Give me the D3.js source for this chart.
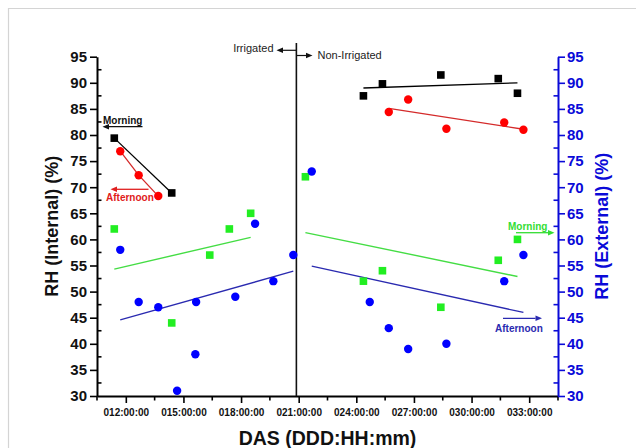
<!DOCTYPE html>
<html>
<head>
<meta charset="utf-8">
<script src="https://cdn.jsdelivr.net/npm/d3@7"></script>
<style>
  html, body { margin: 0; padding: 0; background: #fff; }
  svg { display: block; font-family: "Liberation Sans", Arial, sans-serif; }
</style>
</head>
<body>
<svg id="chart" width="640" height="448"></svg>
<script>
// ---------------- data (days after sowing, RH %) ----------------
const xTickDays   = [12, 15, 18, 21, 24, 27, 30, 33];
const xTickLabels = ["012:00:00", "015:00:00", "018:00:00", "021:00:00", "024:00:00", "027:00:00", "030:00:00", "033:00:00"];
const yTicks      = [30, 35, 40, 45, 50, 55, 60, 65, 70, 75, 80, 85, 90, 95];

// Internal RH, irrigated (connected)
const irrMorningIntDays   = [11.4, 14.39];
const irrMorningInt       = [79.4, 68.9];
const irrAfternoonIntDays = [11.71, 12.67, 13.69];
const irrAfternoonInt     = [76.9, 72.3, 68.3];

// Internal RH, non-irrigated
const nonMorningIntDays   = [24.37, 25.36, 28.40, 31.39, 32.39];
const nonMorningInt       = [87.5, 89.8, 91.5, 90.8, 88.0];
const nonAfternoonIntDays = [25.69, 26.70, 28.69, 31.70, 32.70];
const nonAfternoonInt     = [84.4, 86.8, 81.2, 82.4, 81.0];

// External RH
const morningExtDays   = [11.4, 14.39, 16.37, 17.39, 18.5, 21.35, 24.37, 25.36, 28.4, 31.39, 32.39];
const morningExt       = [62, 44, 57, 62, 65, 72, 52, 54, 47, 56, 60];
const afternoonExtDays = [11.71, 12.67, 13.69, 14.67, 15.62, 15.66, 17.7, 18.73, 19.68, 20.72, 21.68, 24.7, 25.69, 26.7, 28.69, 31.7, 32.7];
const afternoonExt     = [58, 48, 47, 31, 38, 48, 49, 63, 52, 57, 73, 48, 43, 39, 40, 52, 57];

// Linear trend lines (start/end)
const trendNonMorningIntDays   = [24.37, 32.39]; const trendNonMorningInt   = [89.0, 90.0];
const trendNonAfternoonIntDays = [25.69, 32.70]; const trendNonAfternoonInt = [85.1, 81.1];
const trendIrrMorningExtDays   = [11.4, 18.5];   const trendIrrMorningExt   = [54.3, 60.4];
const trendIrrAfternoonExtDays = [11.71, 20.72]; const trendIrrAfternoonExt = [44.6, 53.9];
const trendNonMorningExtDays   = [21.35, 32.39]; const trendNonMorningExt   = [61.3, 52.9];
const trendNonAfternoonExtDays = [21.68, 32.70]; const trendNonAfternoonExt = [54.9, 46.0];

const irrigationSwitchDay = 20.88;

// ---------------- layout ----------------
const svg = d3.select("#chart");
const padL = 97, padR = 558, padT = 56.7, padB = 396;
const x = d3.scaleLinear().domain([10.5, 34.5]).range([padL, padR]);
const yL = d3.scaleLinear().domain([30, 95]).range([padB, padT]);
const yR = d3.scaleLinear().domain([30, 95]).range([padB, padT]);

const C = {
  black: "#000000", red: "#ff0000", redLine: "#d42a2a",
  green: "#22ee22", greenLine: "#44dd44", greenText: "#33dd33",
  blue: "#0000ff", blueLine: "#2a2ab0", axisBlue: "#0a0ad8"
};

// frame border
svg.append("path").attr("d", "M8.5,448 V8.5 H636").attr("fill", "none")
  .attr("stroke", "#d4d4d4").attr("stroke-width", 1.2);

const zip = (a, b) => a.map((v, i) => [v, b[i]]);
const line = (ys) => d3.line().x(d => x(d[0])).y(d => ys(d[1]));

// ---------------- axes ----------------
const minorY = d3.range(32.5, 95, 5);
const minorX = d3.range(10.5, 34.6, 3);

// bottom
const gx = svg.append("g").attr("transform", `translate(0,${padB})`);
gx.call(d3.axisBottom(x).tickValues(xTickDays).tickSize(7).tickSizeOuter(0)
  .tickFormat((d, i) => xTickLabels[i]));
gx.selectAll(".tick text").attr("font-size", 10).attr("font-weight", "bold")
  .attr("font-family", "Liberation Sans, Arial, sans-serif").attr("dy", "0.95em").attr("fill", "#111");
gx.select(".domain").attr("stroke-width", 2);
gx.selectAll(".tick line").attr("stroke-width", 1.6);
gx.selectAll(".minor").data(minorX).enter().append("line")
  .attr("x1", d => x(d)).attr("x2", d => x(d)).attr("y1", 0).attr("y2", 4.5)
  .attr("stroke", "#000").attr("stroke-width", 1.6);

// left
const gl = svg.append("g").attr("transform", `translate(${padL},0)`);
gl.call(d3.axisLeft(yL).tickValues(yTicks).tickSize(7).tickSizeOuter(0));
gl.selectAll(".tick text").attr("font-size", 15).attr("font-weight", "bold")
  .attr("font-family", "Liberation Sans, Arial, sans-serif").attr("x", -10).attr("fill", "#111");
gl.select(".domain").attr("stroke-width", 2);
gl.selectAll(".tick line").attr("stroke-width", 1.6);
gl.selectAll(".minor").data(minorY).enter().append("line")
  .attr("x1", 0).attr("x2", 4.5).attr("y1", d => yL(d)).attr("y2", d => yL(d))
  .attr("stroke", "#000").attr("stroke-width", 1.6);

// right
const gr = svg.append("g").attr("transform", `translate(${padR},0)`);
gr.call(d3.axisRight(yR).tickValues(yTicks).tickSize(7).tickSizeOuter(0));
gr.selectAll(".tick text").attr("font-size", 15).attr("font-weight", "bold")
  .attr("font-family", "Liberation Sans, Arial, sans-serif").attr("x", 9).attr("fill", C.axisBlue);
gr.select(".domain").attr("stroke", C.axisBlue).attr("stroke-width", 2);
gr.selectAll(".tick line").attr("stroke", C.axisBlue).attr("stroke-width", 1.6);
gr.selectAll(".minor").data(minorY).enter().append("line")
  .attr("x1", 0).attr("x2", -4.5).attr("y1", d => yR(d)).attr("y2", d => yR(d))
  .attr("stroke", C.axisBlue).attr("stroke-width", 1.6);

// axis titles
svg.append("text").attr("transform", `translate(58,${(padT + padB) / 2}) rotate(-90)`)
  .attr("text-anchor", "middle").attr("font-size", 18).attr("font-weight", "bold")
  .attr("fill", "#111").text("RH (Internal) (%)");
svg.append("text").attr("transform", `translate(608,${(padT + padB) / 2}) rotate(-90)`)
  .attr("text-anchor", "middle").attr("font-size", 18).attr("font-weight", "bold")
  .attr("fill", C.axisBlue).text("RH (External) (%)");
svg.append("text").attr("x", (padL + padR) / 2).attr("y", 445)
  .attr("text-anchor", "middle").attr("font-size", 19.5).attr("font-weight", "bold")
  .attr("fill", "#111").text("DAS (DDD:HH:mm)");

// divider
svg.append("line").attr("x1", x(irrigationSwitchDay)).attr("x2", x(irrigationSwitchDay))
  .attr("y1", 43).attr("y2", padB).attr("stroke", "#111").attr("stroke-width", 1.6);

// ---------------- lines ----------------
const drawLine = (days, vals, ys, color, w) =>
  svg.append("path").datum(zip(days, vals)).attr("d", line(ys)).attr("fill", "none")
    .attr("stroke", color).attr("stroke-width", w);

drawLine(irrMorningIntDays, irrMorningInt, yL, C.black, 1.3);
drawLine(irrAfternoonIntDays, irrAfternoonInt, yL, C.redLine, 1.3);
drawLine(trendNonMorningIntDays, trendNonMorningInt, yL, C.black, 1.3);
drawLine(trendNonAfternoonIntDays, trendNonAfternoonInt, yL, C.redLine, 1.3);
drawLine(trendIrrMorningExtDays, trendIrrMorningExt, yR, C.greenLine, 1.4);
drawLine(trendNonMorningExtDays, trendNonMorningExt, yR, C.greenLine, 1.4);
drawLine(trendIrrAfternoonExtDays, trendIrrAfternoonExt, yR, C.blueLine, 1.3);
drawLine(trendNonAfternoonExtDays, trendNonAfternoonExt, yR, C.blueLine, 1.3);

// ---------------- markers ----------------
const sq = 7.6, rad = 4.2;
const squares = (days, vals, ys, color) =>
  svg.append("g").selectAll("rect").data(zip(days, vals)).enter().append("rect")
    .attr("x", d => x(d[0]) - sq / 2).attr("y", d => ys(d[1]) - sq / 2)
    .attr("width", sq).attr("height", sq).attr("fill", color);
const circles = (days, vals, ys, color) =>
  svg.append("g").selectAll("circle").data(zip(days, vals)).enter().append("circle")
    .attr("cx", d => x(d[0])).attr("cy", d => ys(d[1])).attr("r", rad).attr("fill", color);

squares(morningExtDays, morningExt, yR, C.green);
circles(afternoonExtDays, afternoonExt, yR, C.blue);
squares(irrMorningIntDays, irrMorningInt, yL, C.black);
squares(nonMorningIntDays, nonMorningInt, yL, C.black);
circles(irrAfternoonIntDays, irrAfternoonInt, yL, C.red);
circles(nonAfternoonIntDays, nonAfternoonInt, yL, C.red);

// ---------------- annotations ----------------
function arrow(x1, x2, yy, color, w) {
  const dir = Math.sign(x2 - x1);
  const hl = 6.5, hw = 2.8;
  svg.append("line").attr("x1", x1).attr("x2", x2 - dir * hl).attr("y1", yy).attr("y2", yy)
    .attr("stroke", color).attr("stroke-width", w);
  svg.append("path")
    .attr("d", `M${x2},${yy} L${x2 - dir * hl},${yy - hw} L${x2 - dir * hl},${yy + hw} Z`)
    .attr("fill", color);
}
function label(tx, ty, str, color, size, weight, anchor) {
  svg.append("text").attr("x", tx).attr("y", ty).attr("font-size", size)
    .attr("font-weight", weight).attr("fill", color).attr("text-anchor", anchor || "start").text(str);
}

label(103, 123.5, "Morning", "#111", 10, "bold");
arrow(142.5, 102.5, 126.7, "#111", 1.3);
label(106, 201, "Afternoon", "#e02020", 10, "bold");
arrow(148.5, 110.5, 189.3, "#e02020", 1.3);

label(508, 229.5, "Morning", C.greenText, 10, "bold");
arrow(516, 554.5, 232.7, C.greenText, 1.3);
label(495, 332, "Afternoon", C.blueLine, 10, "bold");
arrow(503, 542, 318.3, C.blueLine, 1.3);

label(273.5, 52, "Irrigated", "#222", 11, "normal", "end");
arrow(296, 276.5, 50.3, "#111", 1.2);
label(317.5, 58.8, "Non-Irrigated", "#222", 11, "normal");
arrow(296.5, 312.5, 55.5, "#111", 1.2);
</script>
</body>
</html>
